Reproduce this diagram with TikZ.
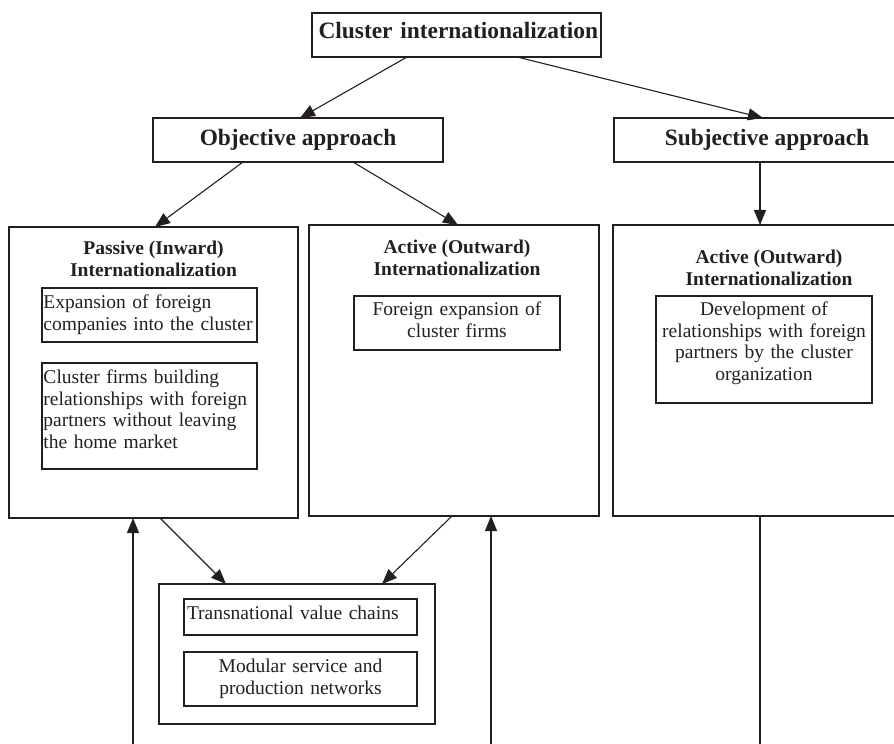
\documentclass[tikz,border=0pt]{standalone}
\usepackage{fontspec}
\setmainfont{Liberation Serif}
\usetikzlibrary{arrows.meta}
\definecolor{ink}{RGB}{35,31,32}
\newcommand\myhead{\bfseries\fontsize{23.4bp}{28bp}\selectfont}
\newcommand\mysub{\bfseries\fontsize{19.5bp}{21.7bp}\selectfont}
\newcommand\mybody{\fontsize{19.5bp}{21.7bp}\selectfont\hyphenpenalty=10000\relax}
\newcommand\dn[1]{\rule[-#1bp]{0pt}{0pt}}
\begin{document}
\begin{tikzpicture}[x=1bp,y=-1bp,
  frame/.style={draw=ink, line width=1.1bp, inner sep=0pt, outer sep=0pt, text=ink},
  titlebox/.style={frame, font=\myhead, minimum height=44bp},
  sechead/.style={font=\mysub, align=center, inner sep=0pt, anchor=north, text=ink},
  itembox/.style={frame, font=\mybody, inner xsep=3bp, inner ysep=0pt},
  arr/.style={draw=ink, line width=1.1bp, -{Triangle[length=15bp,width=12bp]}},
  conn/.style={draw=ink, line width=1.1bp}]
\path[use as bounding box] (0,0) rectangle (894,744);
\clip (0,0) rectangle (894,744);

% title boxes
\node[titlebox, minimum width=289bp, text width=283bp, align=right, inner xsep=3bp,
      text height=16bp, text depth=8bp] (top) at (456.5,35) {Cluster internationalization};
\node[titlebox, minimum width=290bp] (obj) at (298,140) {Objective approach};
\node[titlebox, minimum width=306bp] (subj) at (767,140) {Subjective approach};

% container boxes
\node[frame, minimum width=289bp, minimum height=291bp] (pas) at (153.5,372.5) {};
\node[frame, minimum width=290bp, minimum height=291bp] (mid) at (454,370.5) {};
\node[frame, minimum width=303bp, minimum height=291bp] (rbox) at (764.5,370.5) {};
\node[frame, minimum width=276bp, minimum height=140bp] (bot) at (297,654) {};

% headings
\node[sechead] (hpas) at (153.5,240.7) {Passive (Inward)\\Internationalization};
\node[sechead] (hmid) at (457,239.7) {Active (Outward)\\Internationalization};
\node[sechead] (hright) at (769,249.7) {Active (Outward)\\Internationalization};

% item boxes
\node[itembox, inner xsep=1.5bp, text width=212bp, align=left, minimum height=54bp] (exp) at (149.5,315)
  {Expansion of foreign\\companies into the cluster};
\node[itembox, inner xsep=1.5bp, text width=212bp, align=left, minimum height=106bp] (cfb) at (149.5,416)
  {Cluster firms building\\relationships with foreign\\partners without leaving\\the home market\dn{14}};
\node[itembox, text width=200bp, align=center, minimum height=54bp] (fexp) at (457,323)
  {Foreign expansion of\\cluster firms\dn{7}};
\node[itembox, text width=210bp, align=center, minimum height=107bp] (dev) at (764,349.5)
  {Development of\\relationships with foreign\\partners by the cluster\\organization\dn{17}};
\node[itembox, text width=227bp, align=left, minimum height=36bp] (tvc) at (300.5,617)
  {Transnational value chains\dn{9}};
\node[itembox, text width=227bp, align=center, minimum height=54bp] (msp) at (300.5,679)
  {Modular service and\\production networks};

% connectors
\draw[arr] ([xshift=-49.5bp]top.south) -- ([xshift=2bp]obj.north);
\draw[arr] ([xshift=60.5bp]top.south) -- ([xshift=-4bp]subj.north);
\draw[arr] ([xshift=-55bp]obj.south) -- ([xshift=1.5bp]pas.north);
\draw[arr] ([xshift=55bp]obj.south) -- ([xshift=4bp]mid.north);
\coordinate (sv) at ([xshift=-7bp]subj.south);
\draw[arr] (sv) -- (sv |- rbox.north);
\draw[arr] ([xshift=6.5bp]pas.south) -- ([xshift=-71bp]bot.north);
\draw[arr] ([xshift=-2bp]mid.south) -- ([xshift=85bp]bot.north);
\coordinate (pup) at (133,744);
\draw[arr] (pup) -- (pup |- pas.south);
\coordinate (mup) at (491,744);
\draw[arr] (mup) -- (mup |- mid.south);
\coordinate (rend) at (760,744);
\draw[conn] (rend |- rbox.south) -- (rend);
\end{tikzpicture}
\end{document}
